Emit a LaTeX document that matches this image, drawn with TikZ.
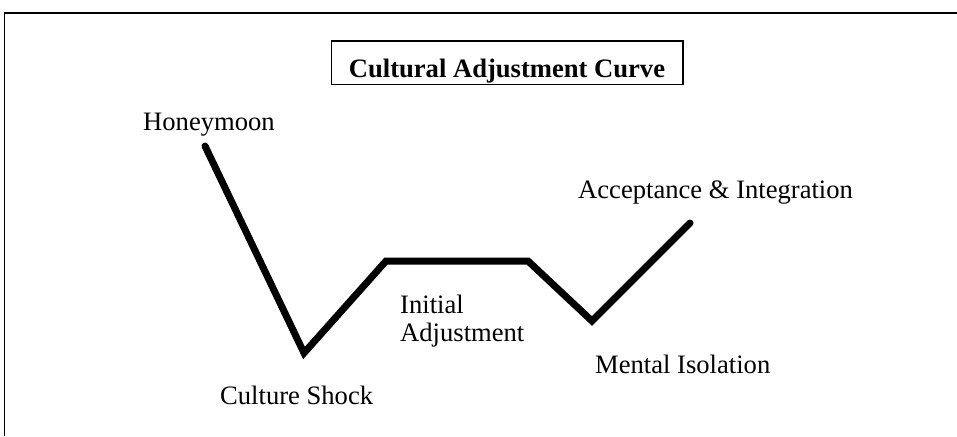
\documentclass[tikz,border=0pt]{standalone}
\usepackage{fontspec}
\setmainfont{Liberation Serif}
\begin{document}
\begin{tikzpicture}[x=1pt,y=-1pt,
  lbl/.style={anchor=base west, inner sep=0pt, font=\fontsize{26.6}{28}\selectfont},
  titlebox/.style={draw, line width=1.5pt, inner sep=0pt,
    minimum width=351.5pt, minimum height=43.5pt,
    text height=28.6pt, text depth=0pt,
    font=\fontsize{26.6}{28}\selectfont\bfseries},
  curve/.style={line width=7pt, line join=miter, line cap=round},
  frame/.style={line width=1.5pt}]
\useasboundingbox (0,0) rectangle (957,436);

% outer frame: left and top edges only
\coordinate (fl) at (4.5,436);
\coordinate (ft) at (4.5,13);
\coordinate (fr) at (957,13);
\draw[frame] (fl) -- (ft) -- (fr);

% heading
\node[titlebox] (title) at (507,62.7) {Cultural Adjustment Curve};

% stages of the curve
\coordinate (honey) at (205,146);
\coordinate (shock) at (304,353);
\coordinate (adjA)  at (386,261);
\coordinate (adjB)  at (528,261);
\coordinate (isol)  at (592,321);
\coordinate (accept) at (690,223);
\draw[curve] (honey) -- (shock) -- (adjA) -- (adjB) -- (isol) -- (accept);

% stage labels
\node[lbl] (lhoney)  at (143,130) {Honeymoon};
\node[lbl] (lshock)  at (220,404) {Culture Shock};
\node[lbl] (linit)   at (400,313) {Initial};
\node[lbl] (ladj)    at (400,341) {Adjustment};
\node[lbl] (lisol)   at (595,373) {Mental Isolation};
\node[lbl] (laccept) at (578,198) {Acceptance \& Integration};
\end{tikzpicture}
\end{document}
